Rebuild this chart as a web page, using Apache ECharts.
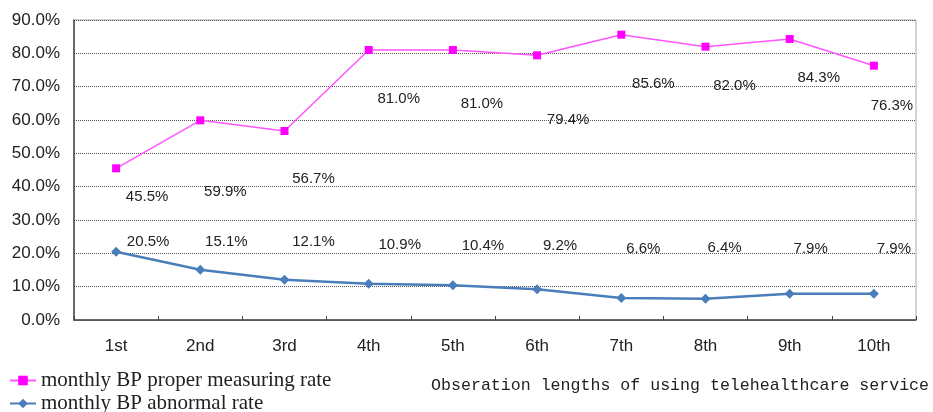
<!DOCTYPE html>
<html>
<head>
<meta charset="utf-8">
<script src="https://cdn.jsdelivr.net/npm/echarts@6/dist/echarts.min.js"></script>
<style>
    html, body { margin: 0; padding: 0; background: #fff; }
    #chart { width: 933px; height: 412px; }
</style>
</head>
<body>
<div id="chart"></div>
<script>
    // data
    const months = ['1st', '2nd', '3rd', '4th', '5th', '6th', '7th', '8th', '9th', '10th']
    const properRate = [45.5, 59.9, 56.7, 81.0, 81.0, 79.4, 85.6, 82.0, 84.3, 76.3]
    const abnormalRate = [20.5, 15.1, 12.1, 10.9, 10.4, 9.2, 6.6, 6.4, 7.9, 7.9]
    const yTicks = [0, 10, 20, 30, 40, 50, 60, 70, 80, 90]

    // label nudges (the labels in the original sit away from the points)
    const properLabelShift = [[31, 29], [25, 72], [29, 48], [30, 49], [29, 54], [31, 65], [32, 49], [29, 39], [29, 39], [18, 40]]
    const abnormalLabelShift = [[32, -10], [26, -28], [29, -38], [31, -39], [30, -39], [23, -43], [22, -49], [19, -51], [21, -45], [20, -45]]

    const labelFont = { fontFamily: 'Liberation Sans', fontSize: 15, color: '#222' }
    const legendText = { fontFamily: 'Liberation Serif', fontSize: 21, color: '#222' }

    function buildData(values, shifts) {
        const out = []
        for (var i = 0; i < values.length; i++) {
            out.push({
                value: values[i],
                label: { offset: shifts[i] }
            })
        }
        return out
    }

    const chart = echarts.init(document.getElementById('chart'))
    chart.setOption({
        animation: false,
        grid: {
            left: 74, top: 20, right: 17, bottom: 92,
            show: true, borderColor: '#aaa', borderWidth: 1
        },
        legend: [
            {
                left: 9, top: 370, padding: 0,
                itemWidth: 26, itemHeight: 12,
                textStyle: legendText,
                data: ['monthly BP proper measuring rate']
            },
            {
                left: 9, top: 393, padding: 0,
                itemWidth: 26, itemHeight: 12,
                textStyle: legendText,
                data: ['monthly BP abnormal rate']
            }
        ],
        graphic: [{
            type: 'text',
            right: 4,
            top: 377,
            style: {
                text: 'Obseration lengths of using telehealthcare service',
                font: '16.6px "Liberation Mono"',
                fill: '#222'
            }
        }],
        xAxis: {
            type: 'category',
            data: months,
            boundaryGap: true,
            axisLine: { lineStyle: { color: '#444', width: 1.5 } },
            axisTick: { show: true, inside: true, length: 4, lineStyle: { color: '#444' } },
            axisLabel: { margin: 18, fontFamily: 'Liberation Sans', fontSize: 17, color: '#222' }
        },
        yAxis: {
            type: 'value',
            min: yTicks[0],
            max: yTicks[yTicks.length - 1],
            interval: 10,
            axisLine: { show: true, lineStyle: { color: '#444', width: 1.5 } },
            axisTick: { show: false },
            axisLabel: {
                margin: 14,
                fontFamily: 'Liberation Sans', fontSize: 17, color: '#222',
                formatter: function (v) { return v.toFixed(1) + '%' }
            },
            splitLine: { lineStyle: { color: '#555', type: [1, 1], width: 1 } }
        },
        series: [
            {
                name: 'monthly BP proper measuring rate',
                type: 'line',
                data: buildData(properRate, properLabelShift),
                symbol: 'rect',
                symbolSize: 8,
                itemStyle: { color: '#ff00ff' },
                lineStyle: { color: '#ff55ff', width: 1.5 },
                label: Object.assign({
                    show: true,
                    position: 'inside',
                    formatter: function (p) { return p.value.toFixed(1) + '%' }
                }, labelFont)
            },
            {
                name: 'monthly BP abnormal rate',
                type: 'line',
                data: buildData(abnormalRate, abnormalLabelShift),
                symbol: 'diamond',
                symbolSize: 10,
                itemStyle: { color: '#4a7ebb' },
                lineStyle: { color: '#4a7ebb', width: 2.5 },
                label: Object.assign({
                    show: true,
                    position: 'inside',
                    formatter: function (p) { return p.value.toFixed(1) + '%' }
                }, labelFont)
            }
        ]
    })
</script>
</body>
</html>
